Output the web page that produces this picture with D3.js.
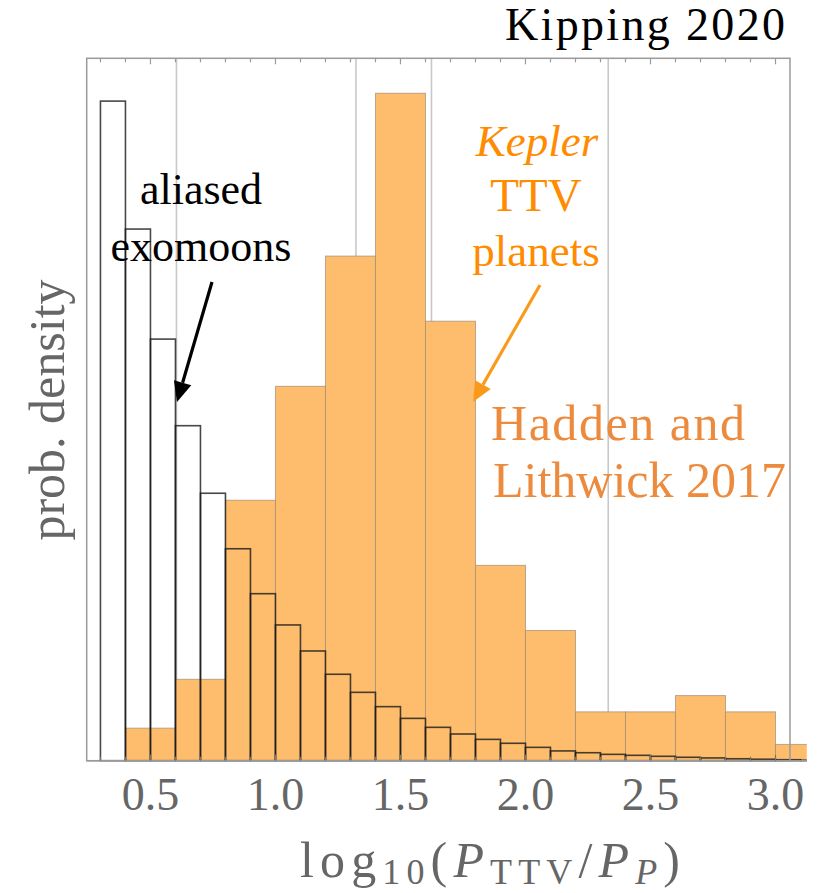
<!DOCTYPE html>
<html>
<head>
<meta charset="utf-8">
<script src="https://cdn.jsdelivr.net/npm/d3@7"></script>
<style>
  html, body { margin: 0; padding: 0; background: #fff; }
  svg { display: block; }
  text { font-family: "Liberation Serif", "Times New Roman", serif; }
</style>
</head>
<body>
<svg id="chart" width="823" height="893"></svg>
<script>
// Hadden & Lithwick 2017 Kepler TTV planets: counts in bins of width 0.2 starting at 0.4
const planetBinStart = 0.4;
const planetBinWidth = 0.2;
const planetCounts = [2, 5, 16, 23, 31, 41, 27, 12, 8, 3, 3, 4, 3, 1];

// Aliased exomoon distribution (same vertical units), bins of width 0.1 starting at 0.3
const moonBinStart = 0.3;
const moonBinWidth = 0.1;
const moonValues = [40.52, 32.66, 25.90, 20.58, 16.43, 13.02, 10.26, 8.34, 6.74, 5.31,
                    4.20, 3.32, 2.60, 2.05, 1.64, 1.31, 1.07, 0.82, 0.60, 0.49,
                    0.39, 0.33, 0.27, 0.21, 0.17, 0.12, 0.09, 0.06, 0.03];

// Vertical reference lines
const gridLines = [0.604, 1.322, 1.624, 2.331];

// Axis tick labels
const tickValues = [0.5, 1.0, 1.5, 2.0, 2.5, 3.0];

const svg = d3.select("#chart");

const xMin = 0.245, xMax = 3.058, xClip = 3.125;
const x = d3.scaleLinear().domain([xMin, xMax]).range([86.7, 790]);
const y = d3.scaleLinear().domain([0, 43.15]).range([760.7, 58.3]);

svg.append("defs").append("clipPath").attr("id", "clip")
  .append("rect")
  .attr("x", x(xMin)).attr("y", 0)
  .attr("width", x(xClip) - x(xMin)).attr("height", y(0) + 1);

// grid lines (behind bars)
svg.append("g").selectAll("line").data(gridLines).join("line")
  .attr("x1", d => x(d)).attr("x2", d => x(d))
  .attr("y1", y.range()[1]).attr("y2", y(0))
  .attr("stroke", "#c8c8c8").attr("stroke-width", 1.6);

const plot = svg.append("g").attr("clip-path", "url(#clip)");

// orange histogram
const planets = planetCounts.map((c, i) => ({
  x0: planetBinStart + i * planetBinWidth,
  x1: planetBinStart + (i + 1) * planetBinWidth,
  v: c
}));
plot.append("g").selectAll("rect").data(planets).join("rect")
  .attr("x", d => x(d.x0))
  .attr("width", d => x(d.x1) - x(d.x0))
  .attr("y", d => y(d.v))
  .attr("height", d => y(0) - y(d.v))
  .attr("fill", "#fdbd6d")
  .attr("stroke", "#a08c72")
  .attr("stroke-opacity", 0.7)
  .attr("stroke-width", 1);

// outlined exomoon histogram
const moons = moonValues.map((v, i) => ({
  x0: moonBinStart + i * moonBinWidth,
  x1: moonBinStart + (i + 1) * moonBinWidth,
  v
}));
plot.append("g").selectAll("rect").data(moons).join("rect")
  .attr("x", d => x(d.x0))
  .attr("width", d => x(d.x1) - x(d.x0))
  .attr("y", d => y(d.v))
  .attr("height", d => y(0) - y(d.v))
  .attr("fill", "none")
  .attr("stroke", "#1a1a1a")
  .attr("stroke-opacity", 0.8)
  .attr("stroke-width", 1.6);

// baseline extends under the clipped last bin
svg.append("line")
  .attr("x1", x(xMin)).attr("x2", x(xClip))
  .attr("y1", y(0)).attr("y2", y(0))
  .attr("stroke", "#999").attr("stroke-width", 1.5);

// frame
svg.append("rect")
  .attr("x", x(xMin)).attr("y", y.range()[1])
  .attr("width", x(xMax) - x(xMin)).attr("height", y(0) - y.range()[1])
  .attr("fill", "none").attr("stroke", "#9a9a9a").attr("stroke-width", 1.5);

// ticks every 0.1 on top and bottom edges, pointing inward
const allTicks = d3.range(3, 31).map(k => k / 10);
const isMajor = d => Math.abs(d * 2 - Math.round(d * 2)) < 1e-6;
const tickG = svg.append("g");
tickG.selectAll("line.top").data(allTicks).join("line").attr("class", "top")
  .attr("x1", d => x(d)).attr("x2", d => x(d))
  .attr("y1", y.range()[1]).attr("y2", d => y.range()[1] + (isMajor(d) ? 6 : 4))
  .attr("stroke", "#9a9a9a").attr("stroke-width", 1.2);
tickG.selectAll("line.bot").data(allTicks).join("line").attr("class", "bot")
  .attr("x1", d => x(d)).attr("x2", d => x(d))
  .attr("y1", y(0)).attr("y2", d => y(0) - (isMajor(d) ? 6 : 4))
  .attr("stroke", "#777").attr("stroke-width", 1.2);

// tick labels
svg.append("g").selectAll("text").data(tickValues).join("text")
  .attr("x", d => x(d)).attr("y", 810)
  .attr("text-anchor", "middle")
  .attr("font-size", 46)
  .attr("fill", "#666")
  .text(d => d.toFixed(1));

// spreads a text's letters so it spans the given width
function spreadTo(sel, width) {
  const node = sel.node();
  const natural = node.getComputedTextLength();
  const n = node.textContent.length;
  if (n > 1 && natural < width) sel.style("letter-spacing", ((width - natural) / (n - 1)) + "px");
}

// x axis title
const xt = svg.append("text")
  .attr("x", 300).attr("y", 877)
  .attr("font-size", 50)
  .attr("fill", "#666");
xt.append("tspan").text("log");
xt.append("tspan").attr("font-size", 36).attr("dy", 7).text("10");
xt.append("tspan").attr("dy", -7).text("(");
xt.append("tspan").attr("font-style", "italic").text("P");
xt.append("tspan").attr("font-size", 36).attr("dy", 7).text("TTV");
xt.append("tspan").attr("dy", -7).text("/");
xt.append("tspan").attr("font-style", "italic").text("P");
xt.append("tspan").attr("font-size", 36).attr("font-style", "italic").attr("dy", 7).text("P");
xt.append("tspan").attr("dy", -7).text(")");
spreadTo(xt, 380);

// y axis title
svg.append("text")
  .attr("transform", "translate(64,410) rotate(-90)")
  .attr("text-anchor", "middle")
  .attr("font-size", 50)
  .attr("fill", "#666")
  .text("prob. density");

// title
const title = svg.append("text")
  .attr("x", 505).attr("y", 40)
  .attr("font-size", 46)
  .attr("fill", "#000")
  .text("Kipping 2020");
spreadTo(title, 280);

// annotations
svg.append("text").attr("x", 201).attr("y", 204).attr("text-anchor", "middle")
  .attr("font-size", 44).attr("fill", "#000").text("aliased");
svg.append("text").attr("x", 201).attr("y", 261).attr("text-anchor", "middle")
  .attr("font-size", 44).attr("fill", "#000").text("exomoons");

const kepColor = "#ff8c00";
svg.append("text").attr("x", 537).attr("y", 156).attr("text-anchor", "middle")
  .attr("font-size", 45).attr("font-style", "italic").attr("fill", kepColor).text("Kepler");
svg.append("text").attr("x", 536).attr("y", 211).attr("text-anchor", "middle")
  .attr("font-size", 47).attr("fill", kepColor).text("TTV");
svg.append("text").attr("x", 536).attr("y", 266).attr("text-anchor", "middle")
  .attr("font-size", 45).attr("fill", kepColor).text("planets");

const hlColor = "#ec8a3e";
const hl1 = svg.append("text").attr("x", 491).attr("y", 440)
  .attr("font-size", 50).attr("fill", hlColor).text("Hadden and");
spreadTo(hl1, 254);
svg.append("text").attr("x", 493).attr("y", 497)
  .attr("font-size", 50).attr("fill", hlColor).text("Lithwick 2017");

// arrows
function arrow(x1, y1, x2, y2, color) {
  const ang = Math.atan2(y2 - y1, x2 - x1);
  const headLen = 20, headW = 9;
  const bx = x2 - headLen * Math.cos(ang), by = y2 - headLen * Math.sin(ang);
  svg.append("line")
    .attr("x1", x1).attr("y1", y1).attr("x2", bx).attr("y2", by)
    .attr("stroke", color).attr("stroke-width", 3.2);
  const px = -Math.sin(ang) * headW, py = Math.cos(ang) * headW;
  svg.append("path")
    .attr("d", `M${x2},${y2}L${bx + px},${by + py}L${bx - px},${by - py}Z`)
    .attr("fill", color);
}
arrow(212, 282, 177, 402, "#000");
arrow(540, 285, 473, 402, "#fb9a1a");
</script>
</body>
</html>
